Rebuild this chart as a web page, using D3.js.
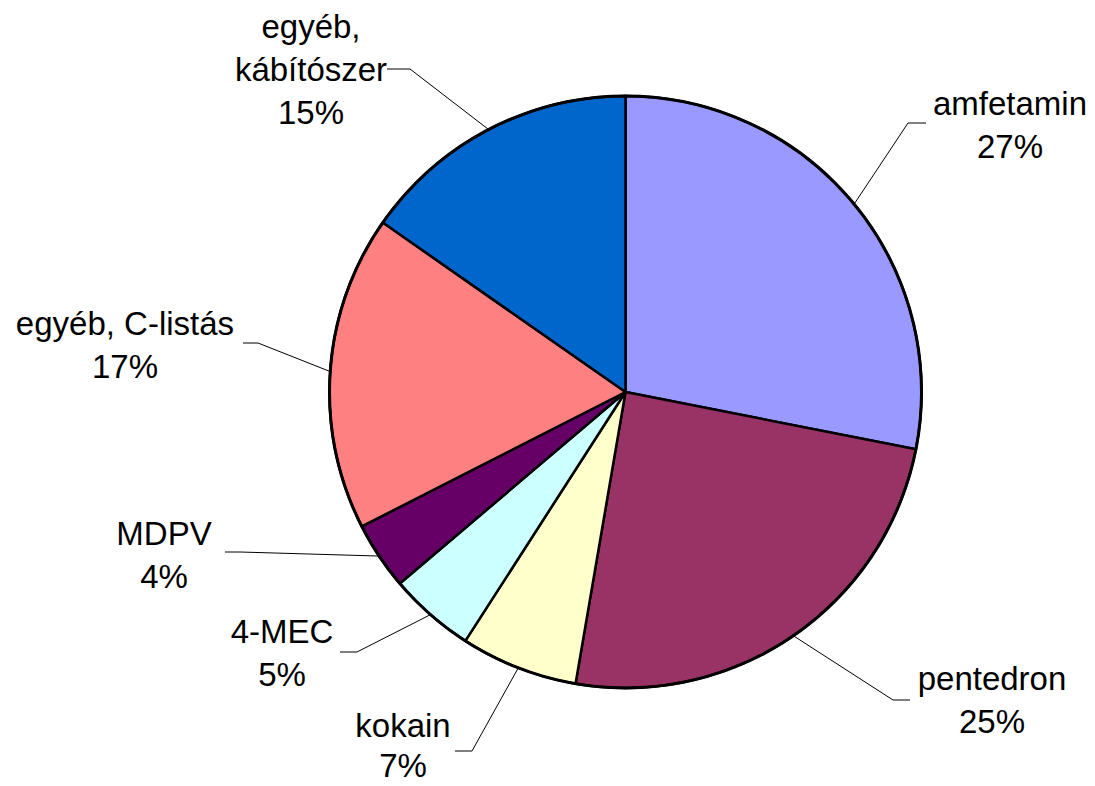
<!DOCTYPE html>
<html>
<head>
<meta charset="utf-8">
<script src="https://cdn.jsdelivr.net/npm/d3@7"></script>
<style>
  body { margin: 0; background: #fff; }
  text { font-family: "Liberation Sans", Arial, sans-serif; font-size: 33px; fill: #000; }
</style>
</head>
<body>
<div id="chart"></div>
<script>
// Slice names (clockwise from 12 o'clock)
var categories = ['amfetamin', 'pentedron', 'kokain', '4-MEC', 'MDPV', 'egyéb, C-listás', 'egyéb, kábítószer'];

// Slice sizes
var values = [28.1, 24.6, 6.4, 4.7, 3.7, 17.2, 15.3];

// Percent labels as printed on the chart
var pctLabels = ['27%', '25%', '7%', '5%', '4%', '17%', '15%'];

// Label lines as printed (some names wrap)
var nameLines = [['amfetamin'], ['pentedron'], ['kokain'], ['4-MEC'], ['MDPV'], ['egyéb, C-listás'], ['egyéb,', 'kábítószer']];

var colors = ['#9999FF', '#993366', '#FFFFCC', '#CCFFFF', '#660066', '#FF8080', '#0066CC'];

// Label layout: text centre x, first baseline y, line gap, leader elbow and leader end
var labelLayout = [
  {cx: 1010, y: 115, gap: 43, ex: 908, ey: 123, hx: 926},
  {cx: 992,  y: 690, gap: 43, ex: 893, ey: 700, hx: 910},
  {cx: 403,  y: 737, gap: 40, ex: 472, ey: 751, hx: 455},
  {cx: 282,  y: 643, gap: 43, ex: 357, ey: 652, hx: 340},
  {cx: 164,  y: 545, gap: 43, ex: 240, ey: 552, hx: 225},
  {cx: 125,  y: 335, gap: 43, ex: 258, ey: 343, hx: 243},
  {cx: 311,  y: 38,  gap: 43, ex: 410, ey: 69,  hx: 387}
];

var width = 1095, height = 786;
var cx = 625.5, cy = 392, radius = 296;

var svg = d3.select('#chart')
  .append('svg')
  .attr('width', width)
  .attr('height', height);

var data = categories.map(function(c, i) {
  return {name: c, value: values[i], pct: pctLabels[i], lines: nameLines[i], color: colors[i], lay: labelLayout[i]};
});

var pie = d3.pie()
  .sort(null)
  .value(function(d) { return d.value; });

var arc = d3.arc().innerRadius(0).outerRadius(radius);
var rimArc = d3.arc().innerRadius(radius).outerRadius(radius);

var arcs = pie(data);

var g = svg.append('g')
  .attr('transform', 'translate(' + cx + ',' + cy + ')');

// Slices
g.selectAll('path.slice')
  .data(arcs)
  .enter().append('path')
  .attr('class', 'slice')
  .attr('d', arc)
  .attr('fill', function(d) { return d.data.color; })
  .attr('stroke', '#000')
  .attr('stroke-width', 2.5)
  .attr('stroke-linejoin', 'round');

// Outer rim a bit heavier
g.append('circle')
  .attr('r', radius)
  .attr('fill', 'none')
  .attr('stroke', '#000')
  .attr('stroke-width', 3);

// Leader lines
svg.selectAll('path.leader')
  .data(arcs)
  .enter().append('path')
  .attr('class', 'leader')
  .attr('fill', 'none')
  .attr('stroke', '#000')
  .attr('stroke-width', 1)
  .attr('d', function(d) {
    var p = rimArc.centroid(d);
    var L = d.data.lay;
    return 'M' + (p[0] + cx) + ',' + (p[1] + cy) + 'L' + L.ex + ',' + L.ey + 'L' + L.hx + ',' + L.ey;
  });

// Labels
var labels = svg.selectAll('text.label')
  .data(arcs)
  .enter().append('text')
  .attr('class', 'label')
  .attr('text-anchor', 'middle');

labels.each(function(d) {
  var t = d3.select(this);
  var L = d.data.lay;
  var lines = d.data.lines.concat([d.data.pct]);
  lines.forEach(function(s, k) {
    t.append('tspan')
      .attr('x', L.cx)
      .attr('y', L.y + k * L.gap)
      .text(s);
  });
});
</script>
</body>
</html>
